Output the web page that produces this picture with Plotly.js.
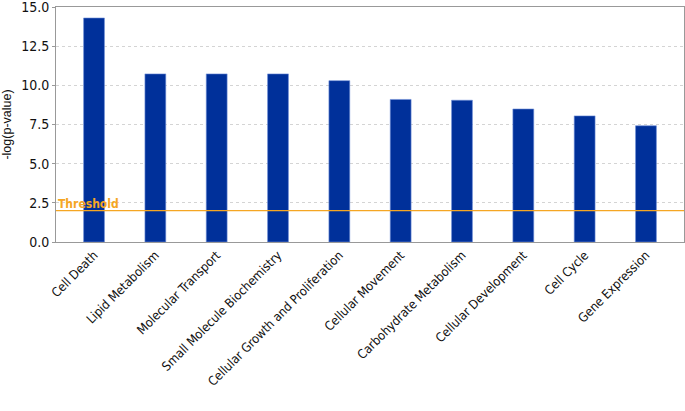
<!DOCTYPE html>
<html>
<head>
<meta charset="utf-8">
<script src="https://cdn.plot.ly/plotly-3.0.1.min.js"></script>
<style>
  html, body { margin: 0; padding: 0; background: #fff; }
  #chart { width: 685px; height: 411px; }
</style>
</head>
<body>
<div id="chart"></div>
<script>
const categories = [
  "Cell Death", "Lipid Metabolism", "Molecular Transport", "Small Molecule Biochemistry",
  "Cellular Growth and Proliferation", "Cellular Movement", "Carbohydrate Metabolism",
  "Cellular Development", "Cell Cycle", "Gene Expression"
];
const logP = [14.3, 10.73, 10.73, 10.73, 10.3, 9.1, 9.05, 8.49, 8.05, 7.42];
const threshold = 2.0;
const yTicks = [0, 2.5, 5, 7.5, 10, 12.5, 15];

const trace = {
  x: categories,
  y: logP,
  type: "bar",
  width: 0.34,
  marker: { color: "#00309a", line: { color: "#6f8fd8", width: 0.6 } },
  hoverinfo: "x+y"
};

const layout = {
  width: 685,
  height: 411,
  margin: { l: 56, r: 1, t: 7, b: 169 },
  paper_bgcolor: "#fff",
  plot_bgcolor: "#fff",
  showlegend: false,
  font: { family: "DejaVu Sans Condensed, DejaVu Sans, sans-serif", color: "#111" },
  xaxis: {
    range: [-0.62, 9.62],
    tickangle: -45,
    tickfont: { size: 12.6 },
    showline: true, linecolor: "#999", linewidth: 1, mirror: true,
    ticks: "", showgrid: false
  },
  yaxis: {
    range: [0, 15],
    tickvals: yTicks,
    ticktext: yTicks.map(v => v.toFixed(1)),
    tickfont: { size: 14 },
    ticklabeloverflow: "allow",
    ticks: "outside", ticklen: 3, tickcolor: "#999",
    showline: true, linecolor: "#999", linewidth: 1, mirror: true,
    gridcolor: "#d4d4d4", griddash: "3px,3px", zeroline: false,
    title: { text: "-log(p-value)", font: { size: 12.5, family: "Liberation Sans, Arial, sans-serif" }, standoff: 8 }
  },
  shapes: [{
    type: "line", xref: "paper", x0: 0, x1: 1, yref: "y", y0: threshold, y1: threshold,
    line: { color: "#f5a623", width: 1.2 }, layer: "above"
  }],
  annotations: [{
    text: "<b>Threshold</b>", xref: "paper", x: 0.0, xanchor: "left",
    yref: "y", y: threshold, yanchor: "bottom", yshift: -2,
    showarrow: false, font: { size: 12, color: "#f5a623" }
  }]
};

Plotly.newPlot("chart", [trace], layout, { displayModeBar: false, staticPlot: true });
</script>
</body>
</html>
